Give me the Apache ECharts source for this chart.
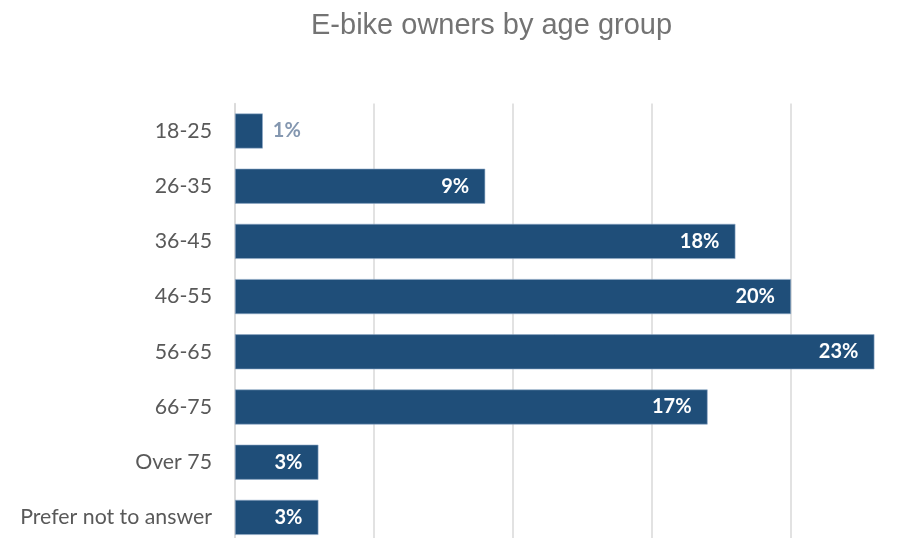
<!DOCTYPE html>
<html>
<head>
<meta charset="utf-8">
<script src="https://cdn.jsdelivr.net/npm/echarts@6/dist/echarts.min.js"></script>
<style>html,body{margin:0;padding:0;background:#fff;overflow:hidden}#c{width:930px;height:545px}</style>
</head>
<body>
<div id="c"></div>
<script>
const title = 'E-bike owners by age group';
const categories = ['18-25','26-35','36-45','46-55','56-65','66-75','Over 75','Prefer not to answer'];
const values = [1, 9, 18, 20, 23, 17, 3, 3];
const outsideThreshold = 2;

const chart = echarts.init(document.getElementById('c'), null, {renderer: 'canvas'});
const labelFont = "Lato, 'Open Sans', 'DejaVu Sans', sans-serif";
chart.setOption({
  animation: false,
  backgroundColor: '#ffffff',
  title: {
    text: title, left: 306, top: 6,
    textStyle: {fontFamily: "'Liberation Sans', Arial, sans-serif", fontSize: 29, fontWeight: 'normal', color: '#737373'}
  },
  grid: {left: 235, right: 0, top: 103.4, bottom: 0, containLabel: false},
  xAxis: {
    type: 'value', min: 0, max: 25, interval: 5,
    axisLabel: {show: false}, axisLine: {show: false}, axisTick: {show: false},
    splitLine: {lineStyle: {color: '#d9d9d9', width: 1.5}}
  },
  yAxis: {
    type: 'category', data: categories, inverse: true,
    axisLine: {show: true, lineStyle: {color: '#d9d9d9', width: 1.5}},
    axisTick: {show: false},
    axisLabel: {margin: 23, fontSize: 21.3, color: '#595959', fontFamily: labelFont}
  },
  series: [{
    type: 'bar', barWidth: 35,
    data: values.map(v => v <= outsideThreshold ? {
      value: v,
      label: {position: 'right', distance: 10, color: '#8497b0'}
    } : v),
    itemStyle: {color: '#1f4e79', borderColor: '#8ea9c8', borderWidth: 0.6},
    label: {
      show: true, position: 'insideRight', distance: 16,
      formatter: p => p.value + '%',
      color: '#ffffff', fontWeight: 'bold', fontSize: 20, fontFamily: labelFont
    }
  }]
});
</script>
</body>
</html>
